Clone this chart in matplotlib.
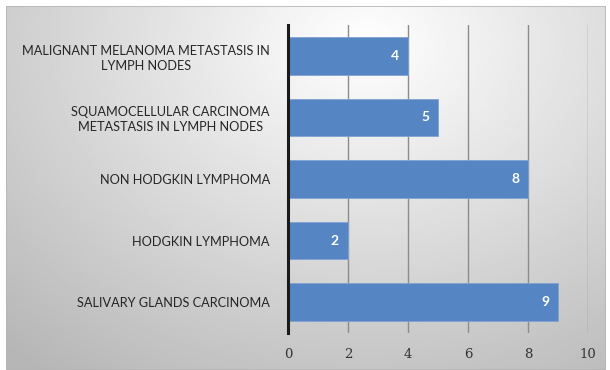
import numpy as np
import matplotlib.pyplot as plt
from matplotlib.patches import Rectangle

# Case counts per diagnosis (bottom to top)
diagnoses = [
    "SALIVARY GLANDS CARCINOMA",
    "HODGKIN LYMPHOMA",
    "NON HODGKIN LYMPHOMA",
    "SQUAMOCELLULAR CARCINOMA\nMETASTASIS IN LYMPH NODES",
    "MALIGNANT MELANOMA METASTASIS IN\nLYMPH NODES",
]
cases = [9, 2, 8, 5, 4]
xticks = [0, 2, 4, 6, 8, 10]

fig = plt.figure(figsize=(6.1, 3.7), dpi=100)

# grey radial-gradient panel behind the chart
bg = fig.add_axes([6 / 610, 0, 600 / 610, 364 / 370], zorder=0)
gx, gy = np.meshgrid(np.linspace(0, 1, 300), np.linspace(0, 1, 200))
r = np.sqrt(((gx - 0.6) / 0.75) ** 2 + ((gy - 0.9) / 0.95) ** 2)
shade = 1.0 - 0.24 * np.clip(r, 0, 1.2)
bg.imshow(shade, cmap="gray", vmin=0, vmax=1, extent=[0, 1, 0, 1],
          origin="lower", aspect="auto")
bg.add_patch(Rectangle((0, 0), 1, 1, transform=bg.transAxes, fill=False,
                       edgecolor="#b5b5b5", linewidth=1.2))
bg.set_axis_off()

ax = fig.add_axes([288 / 610, 37 / 370, 300 / 610, 308 / 370], zorder=1)
ax.patch.set_alpha(0)

y = np.arange(len(diagnoses))
ax.barh(y, cases, height=0.61, color="#5585c2", edgecolor="#7ea3d3",
        linewidth=0.6, zorder=3)
for yi, v in zip(y, cases):
    ax.text(v - 0.3, yi, str(v), ha="right", va="center", color="white",
            fontsize=10, fontweight="bold", family="Lato", zorder=4)

ax.set_xlim(0, 10)
ax.set_ylim(-0.5, len(diagnoses) - 0.5)
ax.set_xticks(xticks)
ax.set_xticklabels([str(t) for t in xticks], family="DejaVu Serif",
                   fontsize=9.5, color="#333333")
ax.set_yticks(y)
ax.set_yticklabels(diagnoses, family="Lato", fontsize=9.2, color="#262626",
                   multialignment="center", linespacing=1.3)
ax.tick_params(axis="both", length=0)
ax.tick_params(axis="y", pad=13)
ax.tick_params(axis="x", pad=11)

ax.grid(axis="x", color="#8c8c8c", linewidth=1.0, zorder=1)
for s in ["top", "right", "bottom"]:
    ax.spines[s].set_visible(False)
ax.spines["left"].set_color("#1a1a1a")
ax.spines["left"].set_linewidth(2.2)
ax.spines["left"].set_zorder(5)

fig.savefig("out.png", dpi=100)
